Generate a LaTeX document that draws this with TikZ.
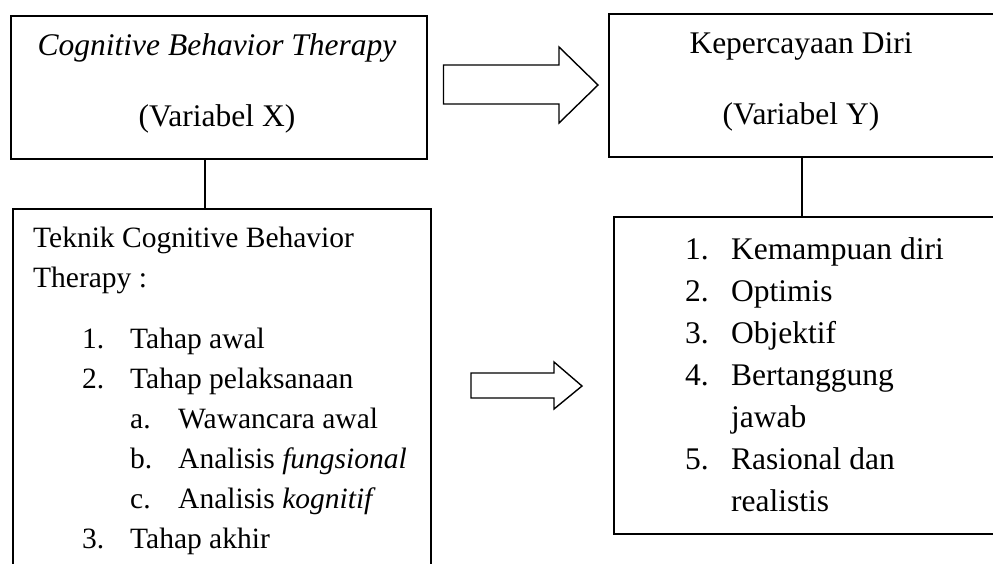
\documentclass[tikz,border=0pt]{standalone}
\usepackage{fontspec}
\setmainfont{Liberation Serif}
\tikzset{
  txt/.style={inner sep=0pt, anchor=base west, font=\fontsize{31.5}{36}\selectfont},
  ltxt/.style={inner sep=0pt, anchor=base west, font=\fontsize{29.5}{34}\selectfont},
  ctxt/.style={inner sep=0pt, anchor=base, font=\fontsize{31.5}{36}\selectfont},
  boxnode/.style={draw=black, line width=1.6pt, rectangle, inner sep=0pt, anchor=north west},
  link/.style={draw=black, line width=1.6pt},
  blockarrow/.style={draw=black, line width=1.4pt, line join=miter, fill=white}
}
\begin{document}
\begin{tikzpicture}[x=1pt,y=-1pt]
\useasboundingbox (0,0) rectangle (993,563);
\clip (0,0) rectangle (993,563);
\fill[white] (0,0) rectangle (993,563);

% boxes
\node[boxnode, minimum width=416pt, minimum height=143pt] (boxX) at (10,15) {};
\node[boxnode, minimum width=400pt, minimum height=143pt] (boxY) at (608,13) {};
\node[boxnode, minimum width=418pt, minimum height=400pt] (boxL) at (12,208) {};
\node[boxnode, minimum width=400pt, minimum height=317pt] (boxR) at (613,216) {};

% connectors
\coordinate (cx) at (205,0);
\coordinate (cy) at (802,0);
\draw[link] (boxX.south -| cx) -- (boxL.north -| cx);
\draw[link] (boxY.south -| cy) -- (boxR.north -| cy);

% block arrows
\draw[blockarrow] (443.5,65) -- (559,65) -- (559,47) -- (598,85) -- (559,123) -- (559,104) -- (443.5,104) -- cycle;
\draw[blockarrow] (471,373) -- (554,373) -- (554,362) -- (582,386) -- (554,409) -- (554,398) -- (471,398) -- cycle;

% top texts
\node[ctxt] (xa) at (217,55) {\textit{Cognitive Behavior Therapy}};
\node[ctxt] (xb) at (217,126) {(Variabel X)};
\node[ctxt] (ya) at (801,53) {Kepercayaan Diri};
\node[ctxt] (yb) at (801,124) {(Variabel Y)};

% left list
\node[ltxt] (l1) at (33,247) {Teknik Cognitive Behavior};
\node[ltxt] (l2) at (33,287) {Therapy :};
\node[ltxt] (n1) at (82,348) {1.};
\node[ltxt] (i1) at (130,348) {Tahap awal};
\node[ltxt] (n2) at (82,388) {2.};
\node[ltxt] (i2) at (130,388) {Tahap pelaksanaan};
\node[ltxt] (na) at (130,428) {a.};
\node[ltxt] (ia) at (178,428) {Wawancara awal};
\node[ltxt] (nb) at (130,468) {b.};
\node[ltxt] (ib) at (178,468) {Analisis \textit{fungsional}};
\node[ltxt] (nc) at (130,508) {c.};
\node[ltxt] (ic) at (178,508) {Analisis \textit{kognitif}};
\node[ltxt] (n3) at (82,548) {3.};
\node[ltxt] (i3) at (130,548) {Tahap akhir};

% right list
\node[txt] (r1n) at (685,259) {1.};
\node[txt] (r1) at (731,259) {Kemampuan diri};
\node[txt] (r2n) at (685,301) {2.};
\node[txt] (r2) at (731,301) {Optimis};
\node[txt] (r3n) at (685,343) {3.};
\node[txt] (r3) at (731,343) {Objektif};
\node[txt] (r4n) at (685,385) {4.};
\node[txt] (r4) at (731,385) {Bertanggung};
\node[txt] (r4b) at (731,427) {jawab};
\node[txt] (r5n) at (685,469) {5.};
\node[txt] (r5) at (731,469) {Rasional dan};
\node[txt] (r5b) at (731,511) {realistis};
\end{tikzpicture}
\end{document}
